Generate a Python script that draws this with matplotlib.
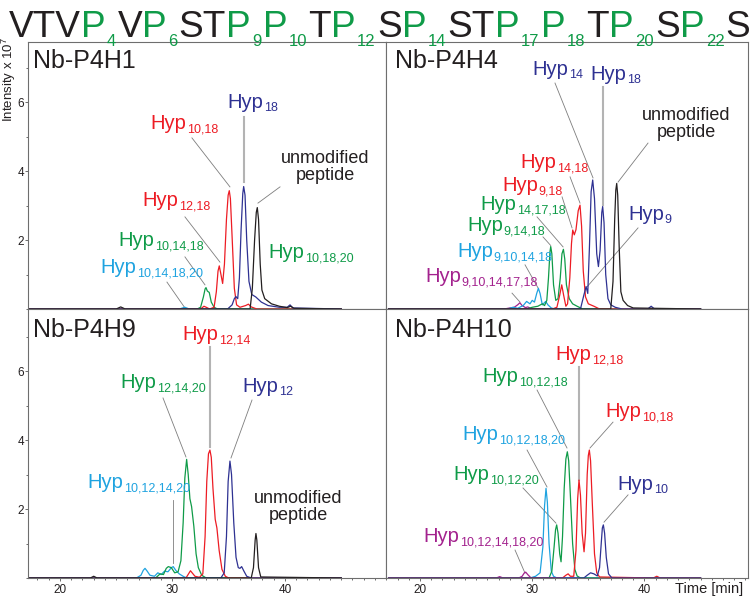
import matplotlib
matplotlib.use('Agg')
import matplotlib.pyplot as plt
from matplotlib.ticker import MultipleLocator

plt.rcParams['font.family'] = ['Liberation Sans', 'DejaVu Sans']
plt.rcParams['mathtext.fontset'] = 'custom'
plt.rcParams['mathtext.rm'] = 'Liberation Sans'

INK = '#231f20'
NAVY = '#2e3192'
RED = '#ed1c24'
GREEN = '#0f9b48'
CYAN = '#1fa3e0'
MAGENTA = '#a3228e'

# peptide sequence, subscript = hydroxylatable proline position
seq_letters = list('VTVPVPSTPPTPSPSTPPTPSPS')
seq_subs = ['', '', '', '4', '', '6', '', '', '9', '10', '', '12', '', '14',
            '', '', '17', '18', '', '20', '', '22', '']

# ---- chromatogram traces (time [min], intensity x 1e7) ----
# Nb-P4H1
h1_cyan = ([17.2, 30.6, 31.1, 31.5, 45.0], [0, 0, 0.05, 0, 0])
h1_green = ([17.2, 32.2, 32.5, 32.75, 32.9, 32.98, 33.1, 33.27, 33.45, 33.7, 34.0, 45.0],
            [0, 0, 0.05, 0.35, 0.58, 0.62, 0.52, 0.48, 0.2, 0.05, 0, 0])
h1_red = ([17.2, 32.5, 32.8, 33.0, 33.3, 33.7, 33.9, 34.05, 34.16, 34.28, 34.46, 34.62,
           34.8, 34.95, 35.05, 35.15, 35.3, 35.5, 35.7, 36.0, 36.5, 36.75, 37.0, 37.5, 45.0],
          [0, 0, 0.08, 0.05, 0, 0.05, 0.5, 1.1, 1.25, 1.05, 0.74, 1.3,
           2.6, 3.3, 3.43, 3.2, 2.1, 0.6, 0.12, 0.05, 0.1, 0.14, 0.06, 0, 0])
h1_navy = ([17.2, 34.9, 35.3, 35.5, 35.64, 35.8, 35.95, 36.1, 36.25, 36.33, 36.45, 36.6,
            36.8, 37.05, 37.4, 37.9, 38.5, 39.5, 40.2, 40.45, 40.7, 45.0],
           [0, 0, 0.12, 0.3, 0.36, 0.3, 0.9, 2.3, 3.35, 3.55, 3.3, 2.0,
            0.8, 0.42, 0.35, 0.2, 0.1, 0.05, 0.05, 0.12, 0.03, 0])
h1_black = ([17.2, 25.0, 25.4, 25.8, 36.9, 37.1, 37.3, 37.45, 37.54, 37.65, 37.8, 37.95,
             38.2, 38.8, 39.5, 40.2, 40.5, 40.8, 45.0],
            [0, 0, 0.06, 0, 0, 0.6, 2.0, 2.8, 2.94, 2.6, 1.3, 0.55,
             0.3, 0.15, 0.08, 0.04, 0.08, 0.02, 0])

# Nb-P4H4
h4_magenta = ([17.2, 27.5, 28.0, 28.4, 28.7, 28.9, 29.1, 29.4, 29.6, 30.0, 45.0],
              [0, 0, 0.03, 0.05, 0.12, 0.18, 0.1, 0.04, 0.06, 0, 0])
h4_cyan = ([17.2, 27.8, 28.3, 28.7, 29.2, 29.5, 29.8, 30.0, 30.2, 30.4, 30.55, 30.7,
            30.9, 31.2, 31.4, 31.7, 32.0, 45.0],
           [0, 0, 0.05, 0.02, 0.1, 0.22, 0.15, 0.25, 0.2, 0.45, 0.6, 0.45,
            0.12, 0.22, 0.12, 0.03, 0, 0])
h4_green = ([17.2, 29.5, 30.0, 30.5, 30.9, 31.1, 31.3, 31.45, 31.58, 31.65, 31.75, 31.9,
             32.1, 32.3, 32.5, 32.65, 32.78, 32.9, 33.05, 33.3, 33.6, 34.0, 34.5, 45.0],
            [0, 0, 0.05, 0.08, 0.15, 0.1, 0.25, 0.9, 1.65, 1.81, 1.6, 0.7,
             0.25, 0.3, 0.9, 1.6, 1.73, 1.45, 0.7, 0.3, 0.15, 0.08, 0, 0])
h4_red = ([17.2, 31.8, 32.2, 32.45, 32.63, 32.8, 33.0, 33.15, 33.35, 33.5, 33.61, 33.75,
           33.9, 34.1, 34.26, 34.4, 34.55, 34.75, 35.0, 35.5, 36.0, 45.0],
          [0, 0, 0.05, 0.4, 0.7, 0.4, 0.08, 0.15, 0.9, 1.9, 2.29, 2.15,
           2.3, 2.85, 3.01, 2.4, 1.1, 0.35, 0.15, 0.08, 0, 0])
h4_navy = ([17.2, 34.3, 34.6, 34.8, 34.95, 35.1, 35.25, 35.39, 35.55, 35.75, 35.9, 36.05,
            36.2, 36.28, 36.4, 36.55, 36.75, 37.0, 37.4, 38.0, 40.3, 40.6, 40.9, 45.0],
           [0, 0, 0.4, 0.65, 0.45, 1.8, 3.4, 3.74, 3.2, 1.6, 1.23, 1.7,
            2.8, 2.97, 2.5, 1.0, 0.3, 0.12, 0.05, 0, 0, 0.08, 0, 0])
h4_black = ([17.2, 37.0, 37.2, 37.35, 37.45, 37.53, 37.62, 37.75, 37.9, 38.1, 38.5, 39.0, 45.0],
            [0, 0, 0.8, 2.6, 3.45, 3.64, 3.3, 1.8, 0.5, 0.25, 0.1, 0.03, 0])

# Nb-P4H9
h9_cyan = ([17.2, 26.8, 27.2, 27.4, 27.56, 27.75, 28.0, 28.4, 28.7, 29.0, 29.3, 29.6,
            29.9, 30.07, 30.3, 30.6, 31.0, 31.3, 45.0],
           [0, 0, 0.08, 0.22, 0.28, 0.2, 0.08, 0.05, 0.15, 0.1, 0.2, 0.18,
            0.3, 0.33, 0.22, 0.12, 0.04, 0, 0])
h9_green = ([17.2, 28.5, 28.9, 29.2, 29.45, 29.63, 29.9, 30.2, 30.5, 30.75, 30.95, 31.1,
             31.26, 31.4, 31.55, 31.7, 31.9, 32.1, 32.3, 32.6, 33.0, 45.0],
            [0, 0, 0.12, 0.1, 0.28, 0.33, 0.3, 0.15, 0.18, 0.5, 1.6, 2.9,
             3.44, 3.0, 2.3, 2.07, 1.5, 0.7, 0.3, 0.08, 0, 0])
h9_red = ([17.2, 31.2, 31.6, 32.0, 32.4, 32.7, 32.9, 33.05, 33.2, 33.33, 33.45, 33.6,
           33.8, 33.95, 34.15, 34.4, 34.7, 35.0, 45.0],
          [0, 0, 0.21, 0.05, 0.02, 0.12, 1.2, 2.8, 3.6, 3.71, 3.5, 2.6,
           1.7, 1.45, 0.8, 0.25, 0.05, 0, 0])
h9_navy = ([17.2, 34.3, 34.6, 34.8, 34.95, 35.11, 35.25, 35.45, 35.65, 35.85, 36.0, 36.15,
            36.35, 36.6, 37.0, 45.0],
           [0, 0, 0.15, 1.2, 2.8, 3.39, 3.0, 1.6, 0.6, 0.3, 0.28, 0.33,
            0.2, 0.05, 0, 0])
h9_black = ([17.2, 22.7, 23.0, 23.3, 37.0, 37.2, 37.35, 37.42, 37.5, 37.65, 37.85, 45.0],
            [0, 0, 0.05, 0, 0, 0.3, 1.1, 1.29, 1.1, 0.3, 0.03, 0])

# Nb-P4H10
h10_magenta = ([17.2, 26.8, 27.1, 27.4, 28.8, 29.1, 29.3, 29.42, 29.6, 29.9, 45.0],
               [0, 0, 0.04, 0, 0, 0.05, 0.15, 0.17, 0.1, 0, 0])
h10_cyan = ([17.2, 29.8, 30.3, 30.7, 30.95, 31.1, 31.23, 31.35, 31.5, 31.7, 31.9, 32.2, 45.0],
            [0, 0, 0.05, 0.15, 0.9, 2.1, 2.6, 2.2, 1.0, 0.2, 0.05, 0, 0])
h10_green = ([17.2, 31.5, 31.75, 31.95, 32.08, 32.18, 32.3, 32.45, 32.57, 32.7, 32.85, 33.0,
              33.13, 33.25, 33.4, 33.6, 33.8, 34.0, 34.3, 45.0],
             [0, 0, 0.2, 0.9, 1.4, 1.54, 1.3, 0.7, 0.47, 1.2, 2.6, 3.45,
              3.66, 3.4, 2.4, 1.0, 0.25, 0.06, 0, 0])
h10_red = ([17.2, 32.7, 33.0, 33.2, 33.4, 33.7, 33.9, 34.05, 34.17, 34.3, 34.45, 34.62,
            34.75, 34.9, 35.0, 35.09, 35.2, 35.35, 35.55, 35.75, 36.0, 40.8, 41.1, 41.4, 45.0],
           [0, 0, 0.08, 0.12, 0.05, 0.05, 0.8, 2.3, 2.84, 2.4, 1.3, 0.76,
            1.3, 3.0, 3.55, 3.71, 3.4, 2.2, 0.7, 0.15, 0.03, 0, 0.05, 0, 0])
h10_navy = ([17.2, 34.6, 34.9, 35.2, 35.5, 35.8, 36.0, 36.15, 36.25, 36.34, 36.45, 36.6,
             36.8, 37.1, 45.0],
            [0, 0, 0.08, 0.15, 0.12, 0.06, 0.3, 1.0, 1.45, 1.54, 1.3, 0.6,
             0.12, 0, 0])

# ---- peak labels: (text, subscript, colour, time, intensity of baseline) ----
h1_labels = [('Hyp', '18', NAVY, 34.84, 5.83), ('Hyp', '10,18', RED, 28.0, 5.22),
             ('Hyp', '12,18', RED, 27.29, 2.99), ('Hyp', '10,14,18', GREEN, 25.16, 1.83),
             ('Hyp', '10,14,18,20', CYAN, 23.56, 1.04), ('Hyp', '10,18,20', GREEN, 38.49, 1.48)]
h1_leaders = [(36.36, 5.57, 36.36, 3.68, True), (31.73, 4.96, 35.11, 3.54, False),
              (31.11, 2.67, 34.22, 1.36, False), (31.11, 1.51, 32.89, 0.70, False),
              (29.51, 0.78, 31.11, 0.03, False), (39.56, 3.54, 37.6, 3.07, False)]

h4_labels = [('Hyp', '14', NAVY, 29.98, 6.78), ('Hyp', '18', NAVY, 35.15, 6.64),
             ('Hyp', '14,18', RED, 28.91, 4.09), ('Hyp', '9,18', RED, 27.31, 3.42),
             ('Hyp', '14,17,18', GREEN, 25.35, 2.87), ('Hyp', '9,14,18', GREEN, 24.19, 2.26),
             ('Hyp', '9,10,14,18', CYAN, 23.3, 1.51),
             ('Hyp', '9,10,14,17,18', MAGENTA, 20.45, 0.78), ('Hyp', '9', NAVY, 38.54, 2.58)]
h4_leaders = [(32.03, 6.55, 35.42, 3.80, False), (36.31, 6.43, 36.31, 3.01, True),
              (40.32, 4.81, 37.65, 3.68, False), (33.37, 3.83, 34.26, 3.07, False),
              (32.66, 3.25, 33.55, 2.35, False), (30.43, 2.67, 32.75, 1.80, False),
              (30.96, 2.09, 31.65, 1.84, False), (29.36, 1.28, 30.52, 0.61, False),
              (28.2, 0.46, 28.91, 0.2, False), (39.43, 2.35, 34.88, 0.64, False)]

h9_labels = [('Hyp', '12,14', RED, 30.84, 6.9), ('Hyp', '12,14,20', GREEN, 25.33, 5.51),
             ('Hyp', '12', NAVY, 36.18, 5.39), ('Hyp', '10,12,14,20', CYAN, 22.4, 2.61)]
h9_leaders = [(33.33, 6.7, 33.33, 3.8, True), (29.16, 5.22, 31.2, 3.51, False),
              (37.07, 5.16, 35.2, 3.48, False), (30.04, 2.26, 30.04, 0.43, False)]

h10_labels = [('Hyp', '12,18', RED, 32.03, 6.32), ('Hyp', '10,12,18', GREEN, 25.53, 5.68),
              ('Hyp', '10,18', RED, 36.49, 4.67), ('Hyp', '10,12,18,20', CYAN, 23.74, 4.0),
              ('Hyp', '10,12,20', GREEN, 22.94, 2.84), ('Hyp', '10', NAVY, 37.56, 2.55),
              ('Hyp', '10,12,14,18,20', MAGENTA, 20.27, 1.04)]
h10_leaders = [(34.17, 6.12, 34.17, 2.84, True), (30.43, 5.45, 33.1, 3.77, False),
               (37.2, 4.52, 35.15, 3.77, False), (29.54, 3.71, 31.32, 2.64, False),
               (29.18, 2.61, 32.12, 1.59, False), (38.54, 2.41, 36.4, 1.62, False),
               (28.47, 0.81, 29.36, 0.14, False)]

W, H = 750, 598
fig = plt.figure(figsize=(W / 100, H / 100), dpi=100)


def box(x0, y0, x1, y1):
    # pixel box (top-left origin) -> figure fraction
    return [x0 / W, 1 - y1 / H, (x1 - x0) / W, (y1 - y0) / H]


panels = [
    ('Nb-P4H1', box(28, 42, 386, 309), (17.16, 48.98), 7.74, 'left', 'top',
     [(h1_cyan, CYAN), (h1_green, GREEN), (h1_red, RED), (h1_navy, NAVY), (h1_black, INK)],
     h1_labels, h1_leaders, (43.56, 4.61)),
    ('Nb-P4H4', box(386, 42, 748, 309), (16.97, 49.23), 7.74, 'right', 'top',
     [(h4_magenta, MAGENTA), (h4_cyan, CYAN), (h4_green, GREEN), (h4_red, RED),
      (h4_navy, NAVY), (h4_black, INK)],
     h4_labels, h4_leaders, (43.71, 5.86)),
    ('Nb-P4H9', box(28, 309, 386, 578), (17.16, 48.98), 7.8, 'left', 'bottom',
     [(h9_cyan, CYAN), (h9_green, GREEN), (h9_red, RED), (h9_navy, NAVY), (h9_black, INK)],
     h9_labels, h9_leaders, (41.16, 2.55)),
    ('Nb-P4H10', box(386, 309, 748, 578), (16.97, 49.23), 7.8, 'right', 'bottom',
     [(h10_magenta, MAGENTA), (h10_cyan, CYAN), (h10_green, GREEN), (h10_red, RED),
      (h10_navy, NAVY)],
     h10_labels, h10_leaders, None),
]

for name, rect, xlim, ytop, col, row, traces, labels, leaders, unmod in panels:
    ax = fig.add_axes(rect)
    for (t, y), c in traces:
        ax.plot(t, y, color=c, lw=0.9)
    ax.set_xlim(*xlim)
    ax.set_ylim(0, ytop)
    for s in ax.spines.values():
        s.set_color('#6e6e6e')
        s.set_linewidth(0.8)
    ax.tick_params(which='both', direction='out', color='#555555', width=0.6,
                   labelsize=8.5, labelcolor=INK)
    ax.tick_params(which='major', length=2, pad=1)
    ax.tick_params(which='minor', length=1.5)
    if col == 'left':
        ax.set_yticks([2, 4, 6])
        ax.yaxis.set_minor_locator(MultipleLocator(1))
    else:
        ax.set_yticks([])
    if row == 'bottom':
        ax.set_xticks([20, 30, 40])
        ax.xaxis.set_minor_locator(MultipleLocator(1))
        ax.tick_params(axis='x', which='major', pad=2)
    else:
        ax.set_xticks([])

    ax.text(xlim[0] + (0.44 if col == 'left' else 0.8), 6.99, name, fontsize=18,
            color=INK, ha='left', va='baseline')

    for t0, i0, t1, i1, vertical in leaders:
        if vertical:
            ax.plot([t0, t1], [i0, i1], color='#b3b3b3', lw=1.5, zorder=1)
        else:
            ax.plot([t0, t1], [i0, i1], color='#7d7d7d', lw=0.6, zorder=1)

    for main, sub, c, t, y in labels:
        m = ax.text(t, y, main, fontsize=14.5, color=c, ha='left', va='baseline')
        ax.annotate(sub, xy=(1, 0), xycoords=m, xytext=(0.6, 0.6),
                    textcoords='offset points', fontsize=9, color=c,
                    ha='left', va='baseline')

    if unmod is not None:
        ax.text(unmod[0], unmod[1], 'unmodified\npeptide', fontsize=13, color=INK,
                ha='center', va='top', multialignment='center', linespacing=1.0)

fig.text(8.5 / W, 1 - 37 / H, r'Intensity x 10$^7$', rotation=90, fontsize=9.5,
         color=INK, ha='center', va='top')
fig.text(743 / W, 1 - 593 / H, 'Time [min]', fontsize=10.5, color=INK,
         ha='right', va='baseline')

# peptide sequence across the top, fitted to the figure width
renderer = fig.canvas.get_renderer()
runs = []
cur = ''
for letter, sub in zip(seq_letters, seq_subs):
    cur += letter
    if sub:
        runs.append((cur, sub))
        cur = ''
if cur:
    runs.append((cur, ''))


def width_of(text, size):
    probe = fig.text(0, 0, text, fontsize=size)
    w = probe.get_window_extent(renderer).width
    probe.remove()
    return w


def place_sequence(size, draw):
    x = 9.0
    gap = 0.05 * size
    sub_size = size * 0.45
    for text, sub in runs:
        full = width_of(text, size)
        if draw:
            fig.text(x / W, 1 - 37 / H, text[:-1] if sub else text, fontsize=size,
                     color=INK, ha='left', va='baseline')
            if sub:
                # the residue carrying a subscript is a proline -> green
                px = x + full - width_of(text[-1], size)
                fig.text(px / W, 1 - 37 / H, text[-1], fontsize=size, color=GREEN,
                         ha='left', va='baseline')
        x += full
        if sub:
            x += gap
            if draw:
                fig.text(x / W, 1 - 46 / H, sub, fontsize=sub_size, color=GREEN,
                         ha='left', va='baseline')
            x += width_of(sub, sub_size) + gap
    return x


end = place_sequence(30, False)
place_sequence(30 * (749 - 9) / (end - 9), True)

fig.savefig('out.png', dpi=100)
